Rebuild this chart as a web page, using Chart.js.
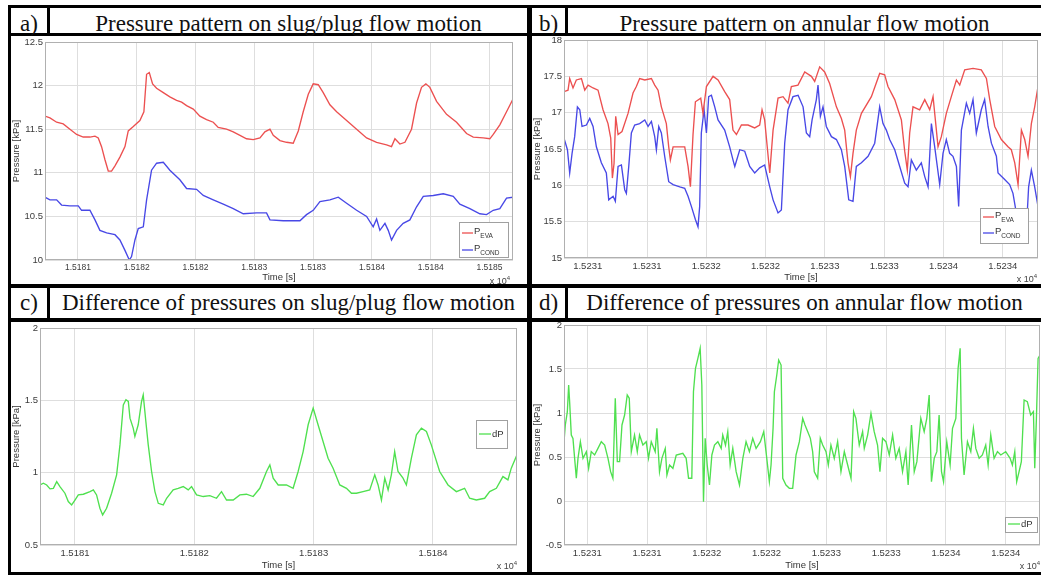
<!DOCTYPE html>
<html lang="en">
<head>
<meta charset="UTF-8">
<title>Pressure patterns on slug/plug and annular flow motion</title>
<script src="https://cdn.jsdelivr.net/npm/chart.js@4.4.0/dist/chart.umd.min.js"></script>
<style>
  body { margin: 0; background: #fff; }
  #page { position: relative; width: 1041px; height: 575px; overflow: hidden; background: #fff; }
  .bar { position: absolute; background: #000; }
  .ttl { position: absolute; font-family: "Liberation Serif", "Times New Roman", serif; font-size: 23px;
         line-height: 23px; color: #111; text-align: center; white-space: nowrap; }
  canvas { position: absolute; }
</style>
</head>
<body>
<div id="page">
  <!-- frame -->
  <div class="bar" style="left:8px;top:5px;width:1033px;height:3px"></div>
  <div class="bar" style="left:8px;top:33px;width:1033px;height:3px"></div>
  <div class="bar" style="left:8px;top:284px;width:1033px;height:4px"></div>
  <div class="bar" style="left:8px;top:318px;width:1033px;height:4px"></div>
  <div class="bar" style="left:8px;top:572px;width:1033px;height:3px"></div>
  <div class="bar" style="left:8px;top:5px;width:3px;height:570px"></div>
  <div class="bar" style="left:527px;top:5px;width:5px;height:570px"></div>
  <div class="bar" style="left:47px;top:5px;width:3px;height:31px"></div>
  <div class="bar" style="left:47px;top:284px;width:3px;height:38px"></div>
  <div class="bar" style="left:565px;top:5px;width:3px;height:31px"></div>
  <div class="bar" style="left:565px;top:284px;width:3px;height:38px"></div>

  <div class="ttl" style="left:11px;top:12px;width:36px">a)</div>
  <div class="ttl" style="left:50px;top:12px;width:477px">Pressure pattern on slug/plug flow motion</div>
  <div class="ttl" style="left:532px;top:12px;width:33px">b)</div>
  <div class="ttl" style="left:568px;top:12px;width:473px">Pressure pattern on annular flow motion</div>
  <div class="ttl" style="left:11px;top:291px;width:36px">c)</div>
  <div class="ttl" style="left:50px;top:291px;width:477px">Difference of pressures on slug/plug flow motion</div>
  <div class="ttl" style="left:532px;top:291px;width:33px">d)</div>
  <div class="ttl" style="left:568px;top:291px;width:473px">Difference of pressures on annular flow motion</div>

  <canvas id="chartA" width="516" height="248" style="left:11px;top:36px"></canvas>
  <canvas id="chartB" width="509" height="248" style="left:532px;top:36px"></canvas>
  <canvas id="chartC" width="516" height="250" style="left:11px;top:322px"></canvas>
  <canvas id="chartD" width="509" height="250" style="left:532px;top:322px"></canvas>
</div>

<script>
// ---- axis ticks ----
const xTickPosA = [15181, 15181.5, 15182, 15182.5, 15183, 15183.5, 15184, 15184.5];
const xTickLabelsA = ['1.5181', '1.5182', '1.5182', '1.5183', '1.5183', '1.5184', '1.5184', '1.5185'];
const xTickPosC = [15181, 15182, 15183, 15184];
const xTickLabelsC = ['1.5181', '1.5182', '1.5183', '1.5184'];
const xTickPosB = [15230.5, 15231, 15231.5, 15232, 15232.5, 15233, 15233.5, 15234];
const xTickLabelsB = ['1.5231', '1.5231', '1.5232', '1.5232', '1.5233', '1.5233', '1.5234', '1.5234'];
const yTicksA = [10, 10.5, 11, 11.5, 12, 12.5];
const yTicksB = [15, 15.5, 16, 16.5, 17, 17.5, 18];
const yTicksC = [0.5, 1, 1.5, 2];
const yTicksD = [-0.5, 0, 0.5, 1, 1.5, 2];

// ---- a) slug/plug flow, pressures [kPa] ----
const timeEvaA = [15180.719, 15180.762, 15180.819, 15180.875, 15180.932, 15180.989, 15181.045, 15181.102, 15181.145, 15181.173,
  15181.201, 15181.230, 15181.258, 15181.286, 15181.315, 15181.357, 15181.400, 15181.428, 15181.471, 15181.527,
  15181.561, 15181.584, 15181.607, 15181.635, 15181.669, 15181.726, 15181.782, 15181.839, 15181.882, 15181.924,
  15181.981, 15182.037, 15182.094, 15182.151, 15182.193, 15182.264, 15182.321, 15182.378, 15182.434, 15182.491,
  15182.548, 15182.590, 15182.633, 15182.661, 15182.718, 15182.774, 15182.831, 15182.874, 15182.916, 15182.959,
  15183.001, 15183.044, 15183.086, 15183.143, 15183.200, 15183.285, 15183.370, 15183.455, 15183.540, 15183.625,
  15183.667, 15183.696, 15183.738, 15183.781, 15183.837, 15183.880, 15183.922, 15183.959, 15183.993, 15184.050,
  15184.135, 15184.220, 15184.305, 15184.362, 15184.447, 15184.503, 15184.532, 15184.588, 15184.645, 15184.702];
const presEvaA = [11.65, 11.63, 11.58, 11.56, 11.50, 11.44, 11.41, 11.41, 11.42, 11.40,
  11.30, 11.15, 11.02, 11.02, 11.08, 11.18, 11.30, 11.48, 11.53, 11.60,
  11.70, 12.13, 12.15, 12.02, 11.97, 11.92, 11.87, 11.83, 11.81, 11.77,
  11.73, 11.65, 11.61, 11.58, 11.52, 11.50, 11.47, 11.43, 11.39, 11.38,
  11.40, 11.47, 11.50, 11.43, 11.37, 11.35, 11.34, 11.48, 11.70, 11.90,
  12.02, 12.01, 11.92, 11.78, 11.70, 11.60, 11.50, 11.40, 11.35, 11.32,
  11.30, 11.39, 11.33, 11.35, 11.50, 11.80, 11.98, 12.02, 11.98, 11.82,
  11.67, 11.58, 11.45, 11.41, 11.40, 11.39, 11.44, 11.55, 11.70, 11.85];
const timeCondA = [15180.719, 15180.762, 15180.819, 15180.861, 15180.932, 15181.003, 15181.031, 15181.102, 15181.145, 15181.187,
  15181.244, 15181.315, 15181.357, 15181.400, 15181.437, 15181.456, 15181.485, 15181.513, 15181.556, 15181.584,
  15181.626, 15181.669, 15181.726, 15181.782, 15181.867, 15181.924, 15182.009, 15182.066, 15182.151, 15182.236,
  15182.321, 15182.406, 15182.519, 15182.604, 15182.633, 15182.746, 15182.888, 15182.944, 15183.001, 15183.058,
  15183.143, 15183.214, 15183.285, 15183.370, 15183.455, 15183.511, 15183.540, 15183.568, 15183.611, 15183.639,
  15183.667, 15183.710, 15183.766, 15183.823, 15183.880, 15183.937, 15184.022, 15184.107, 15184.192, 15184.248,
  15184.333, 15184.418, 15184.475, 15184.532, 15184.588, 15184.645, 15184.702];
const presCondA = [10.72, 10.69, 10.69, 10.63, 10.62, 10.62, 10.57, 10.57, 10.46, 10.34,
  10.31, 10.29, 10.23, 10.11, 10.00, 10.04, 10.23, 10.36, 10.38, 10.69,
  11.03, 11.11, 11.12, 11.03, 10.92, 10.82, 10.81, 10.74, 10.69, 10.64,
  10.59, 10.53, 10.54, 10.54, 10.46, 10.45, 10.45, 10.52, 10.57, 10.67,
  10.69, 10.72, 10.65, 10.57, 10.50, 10.38, 10.47, 10.34, 10.42, 10.34,
  10.23, 10.34, 10.42, 10.46, 10.61, 10.73, 10.74, 10.76, 10.73, 10.64,
  10.59, 10.53, 10.52, 10.57, 10.59, 10.71, 10.72];

// ---- b) annular flow, pressures [kPa] ----
const timeEvaB = [15230.300, 15230.334, 15230.348, 15230.376, 15230.404, 15230.447, 15230.475, 15230.503, 15230.545, 15230.587,
  15230.629, 15230.671, 15230.694, 15230.708, 15230.722, 15230.736, 15230.756, 15230.789, 15230.840, 15230.882,
  15230.910, 15230.938, 15230.981, 15231.037, 15231.065, 15231.093, 15231.121, 15231.163, 15231.183, 15231.197,
  15231.220, 15231.276, 15231.318, 15231.346, 15231.366, 15231.388, 15231.408, 15231.453, 15231.472, 15231.501,
  15231.557, 15231.599, 15231.655, 15231.697, 15231.725, 15231.754, 15231.796, 15231.852, 15231.908, 15231.950,
  15231.970, 15231.992, 15232.035, 15232.063, 15232.105, 15232.147, 15232.189, 15232.217, 15232.273, 15232.330,
  15232.386, 15232.414, 15232.456, 15232.498, 15232.540, 15232.597, 15232.639, 15232.667, 15232.695, 15232.715,
  15232.737, 15232.765, 15232.808, 15232.892, 15232.962, 15233.004, 15233.032, 15233.089, 15233.145, 15233.173,
  15233.195, 15233.215, 15233.243, 15233.299, 15233.342, 15233.384, 15233.412, 15233.454, 15233.482, 15233.524,
  15233.566, 15233.609, 15233.637, 15233.679, 15233.749, 15233.819, 15233.862, 15233.890, 15233.932, 15233.988,
  15234.044, 15234.072, 15234.101, 15234.129, 15234.157, 15234.185, 15234.213, 15234.241, 15234.269, 15234.297];
const presEvaB = [17.29, 17.31, 17.47, 17.34, 17.45, 17.47, 17.31, 17.38, 17.34, 17.31,
  17.04, 16.85, 16.65, 16.10, 16.30, 16.95, 16.70, 16.74, 16.99, 17.27,
  17.36, 17.47, 17.45, 17.47, 17.38, 17.31, 17.08, 16.85, 16.53, 16.35,
  16.53, 16.53, 16.53, 16.26, 15.98, 16.70, 17.15, 17.20, 16.99, 17.36,
  17.50, 17.45, 17.29, 17.18, 16.76, 16.70, 16.83, 16.83, 16.79, 16.83,
  17.04, 16.90, 16.17, 16.76, 17.20, 17.22, 17.13, 17.36, 17.38, 17.56,
  17.50, 17.43, 17.63, 17.56, 17.40, 17.08, 16.92, 16.76, 16.31, 16.12,
  16.44, 16.76, 16.99, 17.22, 17.54, 17.52, 17.36, 17.18, 16.90, 16.47,
  16.21, 16.72, 17.08, 17.04, 17.18, 17.04, 17.22, 16.53, 16.67, 16.99,
  17.22, 17.45, 17.38, 17.59, 17.61, 17.59, 17.47, 17.18, 16.81, 16.63,
  16.53, 16.49, 16.31, 16.01, 16.76, 16.63, 16.40, 16.85, 17.08, 17.36];
const timeCondB = [15230.300, 15230.329, 15230.348, 15230.368, 15230.390, 15230.413, 15230.433, 15230.452, 15230.489, 15230.517,
  15230.545, 15230.573, 15230.615, 15230.657, 15230.677, 15230.714, 15230.733, 15230.756, 15230.784, 15230.812,
  15230.826, 15230.846, 15230.868, 15230.896, 15230.938, 15230.981, 15231.009, 15231.037, 15231.065, 15231.079,
  15231.099, 15231.121, 15231.149, 15231.183, 15231.220, 15231.276, 15231.318, 15231.346, 15231.374, 15231.408,
  15231.430, 15231.444, 15231.458, 15231.481, 15231.501, 15231.520, 15231.543, 15231.571, 15231.599, 15231.655,
  15231.697, 15231.725, 15231.740, 15231.782, 15231.824, 15231.866, 15231.908, 15231.950, 15231.992, 15232.035,
  15232.063, 15232.105, 15232.133, 15232.161, 15232.189, 15232.231, 15232.274, 15232.316, 15232.344, 15232.372,
  15232.392, 15232.428, 15232.442, 15232.462, 15232.484, 15232.512, 15232.555, 15232.597, 15232.639, 15232.667,
  15232.701, 15232.737, 15232.765, 15232.808, 15232.864, 15232.920, 15232.962, 15232.990, 15233.018, 15233.046,
  15233.089, 15233.131, 15233.173, 15233.201, 15233.229, 15233.271, 15233.313, 15233.342, 15233.370, 15233.398,
  15233.426, 15233.468, 15233.496, 15233.524, 15233.552, 15233.580, 15233.609, 15233.628, 15233.651, 15233.693,
  15233.721, 15233.749, 15233.777, 15233.819, 15233.847, 15233.876, 15233.904, 15233.946, 15233.960, 15234.016,
  15234.058, 15234.086, 15234.114, 15234.157, 15234.199, 15234.218, 15234.241, 15234.269, 15234.297];
const presCondB = [16.65, 16.49, 16.17, 16.44, 16.67, 17.08, 17.04, 16.81, 16.83, 16.92,
  16.81, 16.53, 16.31, 16.17, 15.80, 15.85, 15.78, 16.26, 16.28, 15.94,
  15.89, 16.26, 16.72, 16.83, 16.85, 16.90, 16.81, 16.88, 16.67, 16.49,
  16.81, 16.72, 16.40, 16.05, 16.01, 15.98, 15.96, 15.85, 15.71, 15.53,
  15.43, 15.71, 16.72, 17.04, 16.72, 17.22, 17.24, 17.08, 16.90, 16.76,
  16.53, 16.35, 16.26, 16.49, 16.47, 16.26, 16.17, 16.24, 16.28, 15.98,
  15.80, 15.62, 15.66, 16.58, 17.04, 17.22, 17.24, 17.08, 16.72, 16.67,
  16.90, 17.18, 17.38, 16.95, 17.08, 16.81, 16.67, 16.63, 16.49, 16.26,
  15.80, 15.78, 16.26, 16.31, 16.40, 16.58, 17.08, 16.85, 16.76, 16.63,
  16.49, 16.26, 16.03, 15.98, 16.35, 16.21, 16.31, 16.12, 15.98, 16.85,
  16.53, 16.01, 16.44, 16.63, 16.44, 16.40, 16.26, 15.71, 16.76, 17.13,
  16.99, 17.18, 16.72, 17.04, 17.18, 16.81, 16.58, 16.40, 16.17, 16.08,
  16.01, 15.89, 15.62, 15.34, 15.39, 15.98, 16.21, 15.98, 15.71];

// ---- c) slug/plug flow, pressure difference [kPa] ----
const timeDpC = [15180.707, 15180.735, 15180.763, 15180.791, 15180.819, 15180.847, 15180.874, 15180.916, 15180.944, 15180.972,
  15181.000, 15181.028, 15181.070, 15181.126, 15181.154, 15181.181, 15181.209, 15181.232, 15181.265, 15181.307,
  15181.349, 15181.377, 15181.405, 15181.427, 15181.447, 15181.461, 15181.488, 15181.502, 15181.530, 15181.558,
  15181.572, 15181.594, 15181.614, 15181.642, 15181.670, 15181.698, 15181.740, 15181.768, 15181.823, 15181.865,
  15181.907, 15181.949, 15181.977, 15182.019, 15182.075, 15182.130, 15182.186, 15182.228, 15182.270, 15182.326,
  15182.382, 15182.437, 15182.493, 15182.549, 15182.605, 15182.633, 15182.661, 15182.703, 15182.772, 15182.828,
  15182.870, 15182.912, 15182.954, 15182.996, 15183.037, 15183.079, 15183.121, 15183.163, 15183.219, 15183.275,
  15183.317, 15183.358, 15183.414, 15183.470, 15183.512, 15183.540, 15183.568, 15183.596, 15183.624, 15183.651,
  15183.679, 15183.707, 15183.749, 15183.777, 15183.819, 15183.861, 15183.903, 15183.945, 15183.986, 15184.056,
  15184.126, 15184.196, 15184.265, 15184.307, 15184.363, 15184.433, 15184.475, 15184.531, 15184.586, 15184.628,
  15184.656, 15184.704];
const dpC = [0.915, 0.927, 0.915, 0.888, 0.892, 0.938, 0.904, 0.858, 0.800, 0.777,
  0.811, 0.846, 0.851, 0.869, 0.881, 0.846, 0.754, 0.708, 0.754, 0.858,
  0.985, 1.192, 1.469, 1.504, 1.492, 1.377, 1.308, 1.250, 1.331, 1.492,
  1.538, 1.354, 1.192, 1.008, 0.869, 0.788, 0.777, 0.823, 0.881, 0.892,
  0.904, 0.881, 0.904, 0.846, 0.835, 0.841, 0.823, 0.869, 0.811, 0.811,
  0.846, 0.851, 0.835, 0.892, 1.008, 1.054, 0.962, 0.915, 0.915, 0.892,
  1.008, 1.146, 1.331, 1.446, 1.331, 1.215, 1.100, 1.031, 0.915, 0.892,
  0.858, 0.858, 0.869, 0.881, 0.985, 0.915, 0.811, 0.962, 0.881, 0.985,
  1.146, 1.008, 0.962, 0.915, 1.100, 1.262, 1.308, 1.285, 1.192, 1.008,
  0.915, 0.869, 0.892, 0.823, 0.811, 0.823, 0.869, 0.892, 0.973, 0.950,
  1.031, 1.123];

// ---- d) annular flow, pressure difference [kPa] ----
const timeDpD = [15230.305, 15230.316, 15230.333, 15230.344, 15230.352, 15230.366, 15230.380, 15230.394, 15230.408, 15230.422,
  15230.442, 15230.464, 15230.492, 15230.511, 15230.533, 15230.561, 15230.589, 15230.617, 15230.645, 15230.673,
  15230.695, 15230.714, 15230.734, 15230.751, 15230.770, 15230.790, 15230.812, 15230.834, 15230.851, 15230.868,
  15230.895, 15230.918, 15230.937, 15230.965, 15230.993, 15231.012, 15231.035, 15231.068, 15231.082, 15231.104,
  15231.124, 15231.152, 15231.166, 15231.188, 15231.216, 15231.244, 15231.299, 15231.327, 15231.347, 15231.374,
  15231.388, 15231.405, 15231.425, 15231.444, 15231.458, 15231.472, 15231.486, 15231.503, 15231.522, 15231.542,
  15231.564, 15231.592, 15231.620, 15231.633, 15231.656, 15231.675, 15231.695, 15231.717, 15231.745, 15231.773,
  15231.801, 15231.828, 15231.856, 15231.884, 15231.912, 15231.948, 15231.976, 15231.995, 15232.023, 15232.037,
  15232.054, 15232.065, 15232.085, 15232.101, 15232.121, 15232.135, 15232.162, 15232.190, 15232.218, 15232.246,
  15232.274, 15232.302, 15232.321, 15232.344, 15232.366, 15232.385, 15232.399, 15232.427, 15232.449, 15232.469,
  15232.497, 15232.516, 15232.538, 15232.566, 15232.594, 15232.622, 15232.650, 15232.678, 15232.706, 15232.728,
  15232.747, 15232.775, 15232.803, 15232.817, 15232.845, 15232.873, 15232.900, 15232.928, 15232.948, 15232.970,
  15232.998, 15233.026, 15233.054, 15233.081, 15233.109, 15233.137, 15233.165, 15233.184, 15233.212, 15233.235,
  15233.257, 15233.290, 15233.318, 15233.340, 15233.360, 15233.379, 15233.402, 15233.424, 15233.443, 15233.463,
  15233.480, 15233.507, 15233.535, 15233.555, 15233.583, 15233.602, 15233.619, 15233.630, 15233.652, 15233.680,
  15233.708, 15233.730, 15233.750, 15233.778, 15233.805, 15233.833, 15233.853, 15233.875, 15233.903, 15233.931,
  15233.959, 15234.000, 15234.037, 15234.056, 15234.076, 15234.092, 15234.112, 15234.131, 15234.154, 15234.181,
  15234.209, 15234.232, 15234.243, 15234.257, 15234.271, 15234.287];
const dpD = [0.674, 0.864, 1.015, 1.318, 1.129, 0.750, 0.712, 0.485, 0.258, 0.485,
  0.674, 0.485, 0.561, 0.371, 0.561, 0.523, 0.598, 0.674, 0.636, 0.485,
  0.333, 0.258, 1.167, 0.447, 0.447, 0.864, 0.977, 1.205, 1.167, 0.561,
  0.750, 0.561, 0.750, 0.636, 0.674, 0.485, 0.674, 0.561, 0.826, 0.333,
  0.485, 0.598, 0.295, 0.409, 0.371, 0.523, 0.542, 0.485, 0.258, 0.258,
  1.242, 1.508, 1.621, 1.735, 1.318, -0.008, 0.712, 0.409, 0.182, 0.523,
  0.636, 0.674, 0.598, 0.750, 0.636, 0.788, 0.409, 0.598, 0.333, 0.182,
  0.485, 0.674, 0.561, 0.712, 0.598, 0.674, 0.788, 0.561, 0.220, 0.409,
  0.826, 1.242, 1.432, 1.602, 1.545, 0.258, 0.182, 0.144, 0.144, 0.523,
  0.674, 0.939, 0.864, 0.788, 0.712, 0.561, 0.333, 0.258, 0.712, 0.636,
  0.561, 0.409, 0.636, 0.485, 0.674, 0.333, 0.561, 0.409, 0.258, 1.015,
  0.939, 0.636, 0.788, 0.598, 0.750, 0.996, 0.788, 0.636, 0.333, 0.712,
  0.674, 0.523, 0.750, 0.485, 0.598, 0.333, 0.561, 0.182, 0.864, 0.333,
  0.447, 0.939, 0.788, 0.939, 1.205, 0.220, 0.485, 0.561, 0.977, 0.333,
  0.220, 0.674, 0.409, 0.826, 0.939, 1.508, 1.735, 0.712, 0.295, 0.674,
  0.561, 0.826, 0.598, 0.485, 0.523, 0.636, 0.409, 0.750, 0.485, 0.561,
  0.523, 0.561, 0.485, 0.409, 0.561, 0.220, 0.333, 0.447, 1.148, 1.129,
  0.977, 1.015, 0.371, 0.939, 1.621, 1.659];

const RED = '#ec5050';
const BLUE = '#4848e6';
const GREEN = '#4fe04f';
const SANS = '"Liberation Sans", Arial, sans-serif';

function pairs(xs, ys) {
  return xs.map((x, i) => ({ x: x, y: ys[i] }));
}

// grey axes box, boxed legend and the "x 10^4" exponent, MATLAB style
const matlabBox = {
  id: 'matlabBox',
  afterDraw(chart) {
    const o = chart.options.plugins.matlabBox;
    const { ctx, chartArea: a } = chart;
    ctx.save();
    ctx.strokeStyle = '#b0b0b0';
    ctx.lineWidth = 1;
    ctx.strokeRect(Math.round(a.left) + 0.5, Math.round(a.top) + 0.5, Math.round(a.width) - 1, Math.round(a.height) - 1);

    const lg = o.legend;
    const lx = Math.round(a.right - lg.right - lg.width);
    const ly = Math.round(lg.top != null ? a.top + lg.top : a.bottom - lg.bottom - lg.height);
    ctx.fillStyle = '#fff';
    ctx.fillRect(lx, ly, lg.width, lg.height);
    ctx.strokeStyle = '#a0a0a0';
    ctx.strokeRect(lx + 0.5, ly + 0.5, lg.width, lg.height);
    chart.data.datasets.forEach((ds, i) => {
      const cy = ly + lg.first + i * lg.gap;
      ctx.strokeStyle = ds.borderColor;
      ctx.lineWidth = 1.3;
      ctx.beginPath();
      ctx.moveTo(lx + 3, cy);
      ctx.lineTo(lx + 3 + lg.line, cy);
      ctx.stroke();
      ctx.fillStyle = '#333';
      ctx.textAlign = 'left';
      ctx.textBaseline = 'middle';
      ctx.font = '9.5px ' + SANS;
      const tx = lx + 4 + lg.line;
      ctx.fillText(ds.label, tx, cy - (ds.sub ? 2 : 0));
      if (ds.sub) {
        const w = ctx.measureText(ds.label).width;
        ctx.font = '6.5px ' + SANS;
        ctx.fillText(ds.sub, tx + w, cy + 3.5);
      }
    });

    ctx.fillStyle = '#444';
    ctx.textAlign = 'right';
    ctx.textBaseline = 'middle';
    ctx.font = '6px ' + SANS;
    const ex = a.right - o.expRight;
    ctx.fillText('4', ex, a.bottom + o.expY - 4);
    const w4 = ctx.measureText('4').width;
    ctx.font = '9px ' + SANS;
    ctx.fillText('x 10', ex - w4, a.bottom + o.expY);
    ctx.restore();
  }
};

function makePanel(id, p) {
  return new Chart(document.getElementById(id), {
    type: 'line',
    data: {
      datasets: p.series.map(s => ({
        label: s.label,
        sub: s.sub,
        data: s.data,
        borderColor: s.color,
        borderWidth: 1.35,
        pointRadius: 0,
        tension: 0,
        fill: false
      }))
    },
    options: {
      responsive: false,
      animation: false,
      devicePixelRatio: 1,
      layout: { padding: { top: p.padTop, right: p.padRight, left: 0, bottom: 0 } },
      plugins: {
        legend: { display: false },
        tooltip: { enabled: false },
        matlabBox: { legend: p.legend, expY: 22, expRight: p.expRight }
      },
      scales: {
        x: {
          type: 'linear',
          min: p.xMin,
          max: p.xMax,
          afterBuildTicks: s => { s.ticks = p.xTicks.map(v => ({ value: v })); },
          afterFit: s => { s.height = p.xH; s.paddingLeft = 0; s.paddingRight = 0; },
          ticks: {
            autoSkip: false,
            maxRotation: 0,
            padding: 3,
            color: '#3c3c3c',
            font: { family: SANS, size: p.xFont },
            callback: (v, i) => p.xLabels[i]
          },
          grid: { color: '#dedede', drawTicks: false },
          border: { display: false },
          title: {
            display: true,
            text: 'Time [s]',
            color: '#333',
            font: { family: SANS, size: 9.5 },
            padding: { top: 0, bottom: 1 }
          }
        },
        y: {
          min: p.yTicks[0],
          max: p.yTicks[p.yTicks.length - 1],
          afterBuildTicks: s => { s.ticks = p.yTicks.map(v => ({ value: v })); },
          afterFit: s => { s.width = p.yW; s.paddingTop = 0; s.paddingBottom = 0; },
          ticks: {
            padding: 2,
            color: '#3c3c3c',
            font: { family: SANS, size: 9.5 },
            callback: v => String(v)
          },
          grid: { color: '#dedede', drawTicks: false },
          border: { display: false },
          title: {
            display: true,
            text: 'Pressure [kPa]',
            color: '#333',
            font: { family: SANS, size: 9.5 },
            padding: 0
          }
        }
      }
    },
    plugins: [matlabBox]
  });
}

makePanel('chartA', {
  series: [
    { label: 'P', sub: 'EVA', color: RED, data: pairs(timeEvaA, presEvaA) },
    { label: 'P', sub: 'COND', color: BLUE, data: pairs(timeCondA, presCondA) }
  ],
  xMin: 15180.72, xMax: 15184.70, xTicks: xTickPosA, xLabels: xTickLabelsA, xFont: 8.5,
  yTicks: yTicksA, yW: 34, xH: 24, padTop: 6, padRight: 14, expRight: 3,
  legend: { right: 5, bottom: 3, width: 49, height: 35, first: 11, gap: 17, line: 11 }
});

makePanel('chartB', {
  series: [
    { label: 'P', sub: 'EVA', color: RED, data: pairs(timeEvaB, presEvaB) },
    { label: 'P', sub: 'COND', color: BLUE, data: pairs(timeCondB, presCondB) }
  ],
  xMin: 15230.30, xMax: 15234.297, xTicks: xTickPosB, xLabels: xTickLabelsB, xFont: 9.5,
  yTicks: yTicksB, yW: 32, xH: 26, padTop: 4, padRight: 3, expRight: 1,
  legend: { right: 10, bottom: 15, width: 48, height: 35, first: 9, gap: 16, line: 11 }
});

makePanel('chartC', {
  series: [
    { label: 'dP', color: GREEN, data: pairs(timeDpC, dpC) }
  ],
  xMin: 15180.707, xMax: 15184.704, xTicks: xTickPosC, xLabels: xTickLabelsC, xFont: 9.5,
  yTicks: yTicksC, yW: 29, xH: 27, padTop: 6, padRight: 10, expRight: 0,
  legend: { right: 10, top: 92, width: 31, height: 28, first: 14, gap: 16, line: 12 }
});

makePanel('chartD', {
  series: [
    { label: 'dP', color: GREEN, data: pairs(timeDpD, dpD) }
  ],
  xMin: 15230.305, xMax: 15234.287, xTicks: xTickPosB, xLabels: xTickLabelsB, xFont: 9.5,
  yTicks: yTicksD, yW: 32, xH: 27, padTop: 3, padRight: 1, expRight: 0,
  legend: { right: 3, bottom: 13, width: 32, height: 15, first: 7, gap: 16, line: 12 }
});
</script>
</body>
</html>
